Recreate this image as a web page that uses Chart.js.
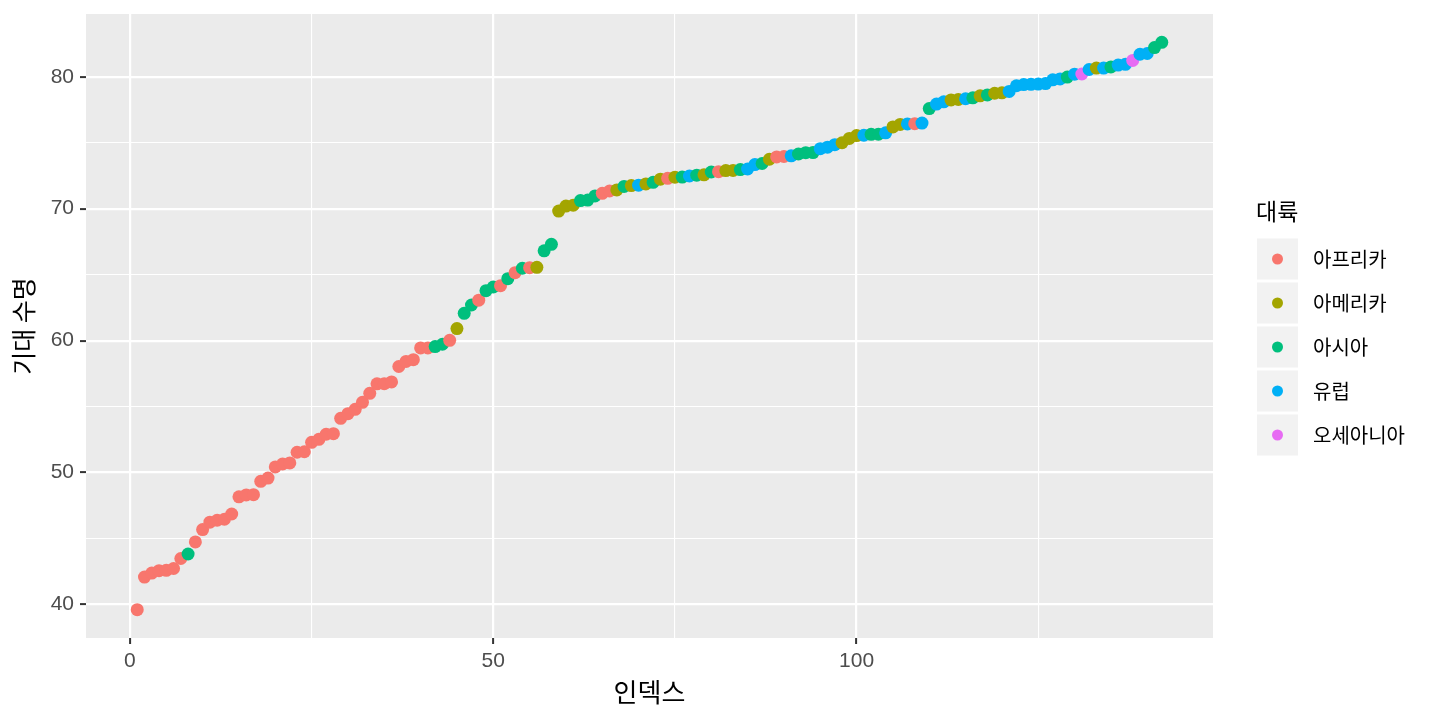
<!DOCTYPE html>
<html><head><meta charset="utf-8">
<script src="https://cdn.jsdelivr.net/npm/chart.js@4"></script>
<style>html,body{margin:0;padding:0;background:#fff}#wrap{width:1440px;height:720px}</style>
</head><body><div id="wrap"><canvas id="c" width="1440" height="720"></canvas></div>
<script>
// Sorted life expectancy values (index 1..142)
const lifeExp = [
39.613,42.082,42.384,42.568,42.592,42.731,43.487,43.828,44.741,45.678,
46.242,46.388,46.462,46.859,48.159,48.303,48.328,49.339,49.580,50.430,
50.651,50.728,51.542,51.579,52.295,52.517,52.906,52.947,54.110,54.467,
54.791,55.322,56.007,56.728,56.735,56.867,58.040,58.420,58.556,59.443,
59.448,59.545,59.723,60.022,60.916,62.069,62.698,63.062,63.785,64.062,
64.164,64.698,65.152,65.483,65.528,65.554,66.803,67.297,69.819,70.198,
70.259,70.616,70.650,70.964,71.164,71.338,71.421,71.688,71.752,71.777,
71.878,71.993,72.235,72.301,72.390,72.396,72.476,72.535,72.567,72.777,
72.801,72.889,72.899,72.961,73.005,73.338,73.422,73.747,73.923,73.952,
74.002,74.143,74.241,74.249,74.543,74.663,74.852,74.994,75.320,75.537,
75.563,75.635,75.640,75.748,76.195,76.384,76.423,76.442,76.486,77.588,
77.926,78.098,78.242,78.273,78.332,78.400,78.553,78.623,78.746,78.782,
78.885,79.313,79.406,79.425,79.441,79.483,79.762,79.829,79.972,80.196,
80.204,80.546,80.653,80.657,80.745,80.884,80.941,81.235,81.701,81.757,
82.208,82.603];
// Continent code per index: 0 아프리카, 1 아메리카, 2 아시아, 3 유럽, 4 오세아니아
const continentCode = [
0,0,0,0,0,0,0,2,0,0,
0,0,0,0,0,0,0,0,0,0,
0,0,0,0,0,0,0,0,0,0,
0,0,0,0,0,0,0,0,0,0,
0,2,2,0,1,2,2,0,2,2,
0,2,0,2,0,1,2,2,1,1,
1,2,2,2,0,0,1,2,1,3,
1,2,1,0,1,2,3,2,1,2,
0,1,1,2,3,3,2,1,0,0,
3,2,2,2,3,3,3,1,1,1,
3,2,2,3,1,1,3,0,3,2,
3,3,1,1,3,2,1,2,1,1,
3,3,3,3,3,3,3,3,2,3,
4,3,1,3,2,3,3,4,3,3,
2,2];
const continentNames = ['아프리카','아메리카','아시아','유럽','오세아니아'];
const continentColors = ['#F8766D','#A3A500','#00BF7D','#00B0F6','#E76BF3'];
const xMajorTicks = [0,50,100];
const xMinorTicks = [25,75,125];
const yMajorTicks = [40,50,60,70,80];
const yMinorTicks = [45,55,65,75];
const xTitle = '인덱스';
const yTitle = '기대 수명';
const legendTitle = '대륙';

const pts = lifeExp.map((v,i)=>({x:i+1,y:v}));
const ptColors = continentCode.map(c=>continentColors[c]);

const xMin = 1 - 0.05*141, xMax = 142 + 0.05*141;
const yR = 82.603-39.613;
const yMin = 39.613 - 0.05*yR, yMax = 82.603 + 0.05*yR;

const NUMFONT = '"Liberation Sans", Arial, sans-serif';
const KFONT = '"Noto Sans CJK KR", "Noto Sans", sans-serif';

const bgPlugin = {
  id:'panelBg',
  beforeDraw(chart){
    const {ctx, chartArea:a} = chart;
    ctx.save(); ctx.fillStyle='#EBEBEB';
    ctx.fillRect(a.left,a.top,a.right-a.left,a.bottom-a.top);
    ctx.restore();
  },
  afterDraw(chart){
    const {ctx, chartArea:a} = chart;
    ctx.save();
    ctx.fillStyle='#000';
    ctx.textAlign='center'; ctx.textBaseline='middle';
    ctx.font = '26px '+KFONT;
    ctx.fillText(xTitle,(a.left+a.right)/2,692);
    ctx.save();
    ctx.font = '25px '+KFONT;
    ctx.translate(23,(a.top+a.bottom)/2);
    ctx.rotate(-Math.PI/2);
    ctx.fillText(yTitle,0,0);
    ctx.restore();
    // legend
    ctx.textAlign='left';
    ctx.font = '23px '+KFONT;
    ctx.fillText(legendTitle,1256,211);
    ctx.font = '20px '+KFONT;
    continentNames.forEach((n,i)=>{
      const cy = 259 + i*44;
      ctx.fillStyle='#F2F2F2';
      ctx.fillRect(1257,cy-20.5,41,41);
      ctx.fillStyle=continentColors[i];
      ctx.beginPath(); ctx.arc(1277.5,cy,5.5,0,Math.PI*2); ctx.fill();
      ctx.fillStyle='#000';
      ctx.fillText(n,1313,cy);
    });
    ctx.restore();
  }
};

new Chart(document.getElementById('c'),{
  type:'scatter',
  data:{datasets:[{
    data:pts,
    pointRadius:6.5,
    pointHoverRadius:6.5,
    pointBackgroundColor:ptColors,
    pointBorderWidth:0,
    borderWidth:0
  }]},
  options:{
    responsive:false,
    animation:false,
    devicePixelRatio:1,
    layout:{padding:{left:0,right:227,top:14,bottom:0}},
    plugins:{legend:{display:false},tooltip:{enabled:false}},
    events:[],
    scales:{
      x:{
        type:'linear',min:xMin,max:xMax,
        afterBuildTicks(s){ s.ticks = xMajorTicks.concat(xMinorTicks).sort((a,b)=>a-b).map(v=>({value:v})); },
        afterFit(s){ s.height = 82; s.paddingLeft = 0; s.paddingRight = 0; },
        border:{display:false},
        grid:{
          color:'#FFFFFF',
          lineWidth:c=>xMajorTicks.includes(c.tick.value)?2.2:1.1,
          tickColor:c=>xMajorTicks.includes(c.tick.value)?'#333333':'rgba(0,0,0,0)',
          tickWidth:2, tickLength:6, drawTicks:true
        },
        ticks:{
          autoSkip:false, maxRotation:0, padding:5,
          color:'#4D4D4D', font:{size:21,family:NUMFONT},
          callback:v=>xMajorTicks.includes(v)?String(v):''
        }
      },
      y:{
        type:'linear',min:yMin,max:yMax,
        afterBuildTicks(s){ s.ticks = yMajorTicks.concat(yMinorTicks).sort((a,b)=>a-b).map(v=>({value:v})); },
        afterFit(s){ s.width = 86; s.paddingTop = 0; s.paddingBottom = 0; },
        border:{display:false},
        grid:{
          color:'#FFFFFF',
          lineWidth:c=>yMajorTicks.includes(c.tick.value)?2.2:1.1,
          tickColor:c=>yMajorTicks.includes(c.tick.value)?'#333333':'rgba(0,0,0,0)',
          tickWidth:2, tickLength:6, drawTicks:true
        },
        ticks:{
          autoSkip:false, padding:6,
          color:'#4D4D4D', font:{size:21,family:NUMFONT},
          callback:v=>yMajorTicks.includes(v)?String(v):''
        }
      }
    }
  },
  plugins:[bgPlugin]
});
</script></body></html>
